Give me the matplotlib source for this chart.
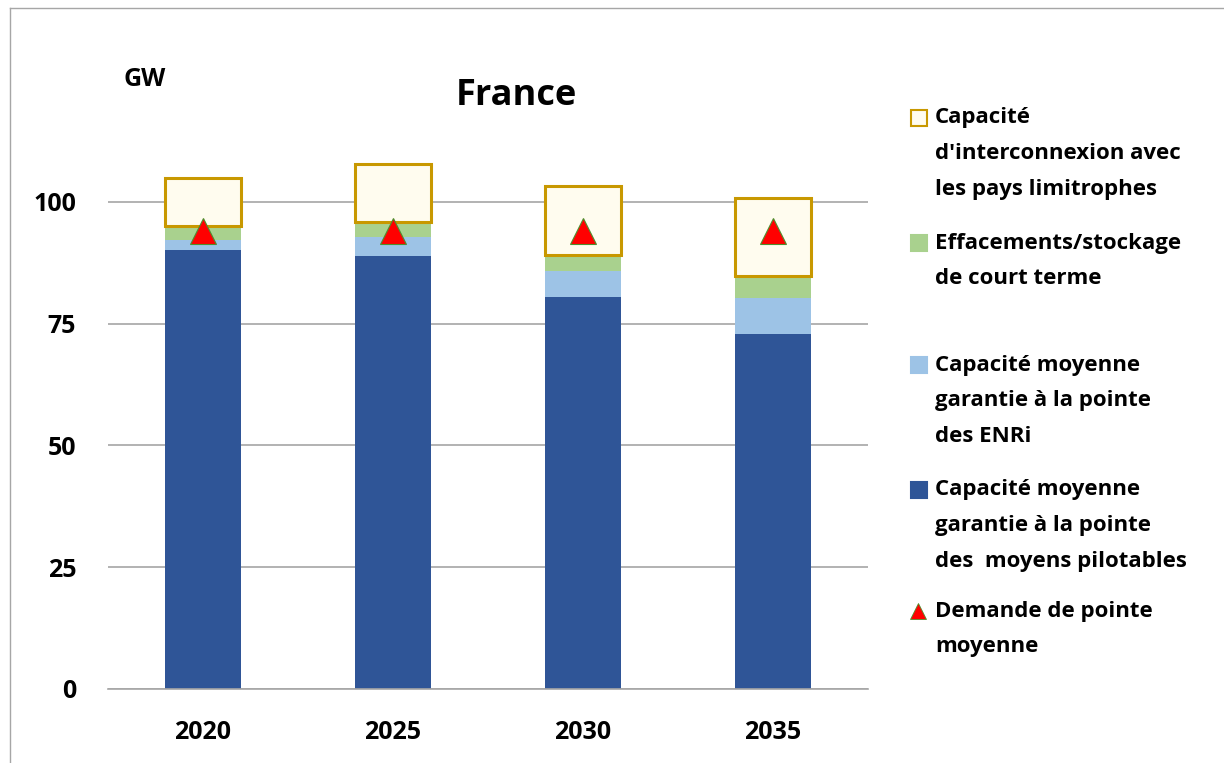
import matplotlib
matplotlib.use("Agg")
import matplotlib.pyplot as plt
from matplotlib.lines import Line2D
from matplotlib.patches import Rectangle

# data (GW)
years = ["2020", "2025", "2030", "2035"]
pilotables = [90.1, 88.9, 80.5, 72.9]
enri = [2.1, 3.9, 5.3, 7.4]
effacements = [2.9, 3.1, 3.3, 4.5]
interconnexion = [9.8, 11.9, 14.2, 16.0]
demande = [94.0, 94.0, 94.0, 94.0]

yticks = [0, 25, 50, 75, 100]

legend_entries = [
    ("box", ["Capacité", "d'interconnexion avec", "les pays limitrophes"]),
    ("green", ["Effacements/stockage", "de court terme"]),
    ("light", ["Capacité moyenne", "garantie à la pointe", "des ENRi"]),
    ("dark", ["Capacité moyenne", "garantie à la pointe", "des  moyens pilotables"]),
    ("tri", ["Demande de pointe", "moyenne"]),
]
legend_y = [118, 243, 365, 490, 611]  # pixel y of first line

DARK = "#2F5597"
LIGHT = "#9DC3E6"
GREEN = "#A9D18E"
GOLD = "#C89800"
CREAM = "#FFFCEF"

plt.rcParams["font.family"] = ["Open Sans", "DejaVu Sans"]
plt.rcParams["font.weight"] = "bold"

W, H = 1224, 763
fig = plt.figure(figsize=(W / 100, H / 100), dpi=100)
ax = fig.add_axes([108 / W, 1 - 689 / H, (868 - 108) / W, (689 - 80) / H])

x = range(len(years))
width = 0.40
ax.bar(x, pilotables, width, color=DARK, zorder=2)
ax.bar(x, enri, width, bottom=pilotables, color=LIGHT, zorder=2)
b2 = [p + e for p, e in zip(pilotables, enri)]
ax.bar(x, effacements, width, bottom=b2, color=GREEN, zorder=2)
b3 = [b + f for b, f in zip(b2, effacements)]
ax.bar(x, interconnexion, width, bottom=b3, color=CREAM, edgecolor=GOLD,
       linewidth=2.2, zorder=3)
ax.plot(x, demande, linestyle="none", marker="^", markersize=19,
        markerfacecolor="#FF0000", markeredgecolor="#4E8F2F",
        markeredgewidth=0.8, zorder=4)

ax.set_xlim(-0.5, 3.5)
ax.set_ylim(0, 125)
ax.set_yticks(yticks)
ax.set_xticks(list(x))
ax.set_xticklabels(years)
ax.tick_params(axis="both", length=0, labelsize=18)
ax.tick_params(axis="y", pad=23)
ax.tick_params(axis="x", pad=22)
for lab in ax.get_xticklabels() + ax.get_yticklabels():
    lab.set_fontweight("bold")
ax.grid(axis="y", color="#A6A6A6", linewidth=1.2, zorder=0)
for s in ["left", "right", "top"]:
    ax.spines[s].set_visible(False)
ax.spines["bottom"].set_color("#A6A6A6")
ax.spines["bottom"].set_linewidth(1.2)

fig.text(516 / W, 1 - 96 / H, "France", fontsize=26, fontweight="bold",
         ha="center", va="center")
fig.text(145 / W, 1 - 80 / H, "GW", fontsize=18, fontweight="bold",
         ha="center", va="center")

# legend drawn by hand to follow the layout of the original
line_h = 35.5
for (kind, lines), y0 in zip(legend_entries, legend_y):
    fy = 1 - y0 / H
    if kind == "tri":
        fig.add_artist(Line2D([918 / W], [fy], marker="^", markersize=11,
                              markerfacecolor="#FF0000", markeredgecolor="#4E8F2F",
                              markeredgewidth=0.6, linestyle="none"))
    else:
        fc = {"box": CREAM, "green": GREEN, "light": LIGHT, "dark": DARK}[kind]
        ec = GOLD if kind == "box" else fc
        fig.add_artist(Rectangle((911 / W, fy - 8 / H), 16 / W, 16 / H,
                                 facecolor=fc, edgecolor=ec, linewidth=1.5,
                                 transform=fig.transFigure))
    for i, t in enumerate(lines):
        fig.text(935 / W, 1 - (y0 + i * line_h) / H, t, fontsize=16,
                 fontweight="bold", ha="left", va="center")

# outer frame of the original slide
fig.add_artist(Line2D([10 / W, 1], [1 - 8 / H, 1 - 8 / H], color="#A6A6A6", linewidth=1))
fig.add_artist(Line2D([10 / W, 10 / W], [0, 1 - 8 / H], color="#A6A6A6", linewidth=1))

fig.savefig("out.png", dpi=100)
